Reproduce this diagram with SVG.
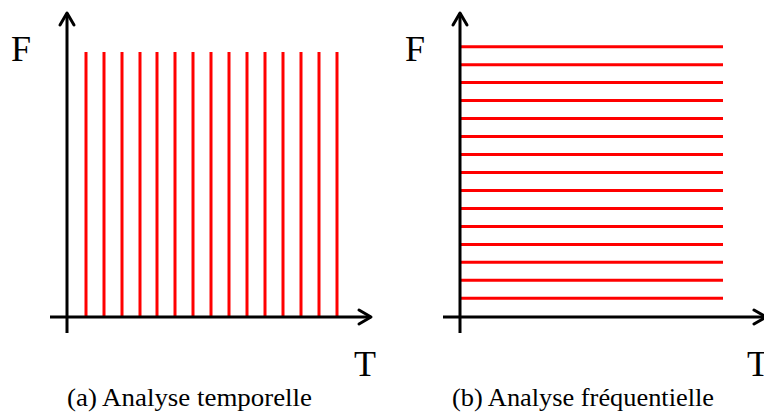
<svg xmlns="http://www.w3.org/2000/svg" width="764" height="413" viewBox="0 0 764 413">
<style>
.ax{stroke:#000;stroke-width:3;fill:none}
.ah{stroke:#000;stroke-width:3;fill:none;stroke-linecap:round;stroke-linejoin:round}
.r{stroke:#ff0000;stroke-width:3}
.lbl{font-family:"Liberation Serif","DejaVu Serif",serif;font-size:36px;fill:#000}
.cap{font-family:"Liberation Serif","DejaVu Serif",serif;font-size:25px;fill:#000}
</style>
<g id="panel-a">
  <g id="a-lines">
    <line class="r" x1="86" y1="52" x2="86" y2="316"/>
    <line class="r" x1="104" y1="52" x2="104" y2="316"/>
    <line class="r" x1="122" y1="52" x2="122" y2="316"/>
    <line class="r" x1="140" y1="52" x2="140" y2="316"/>
    <line class="r" x1="157" y1="52" x2="157" y2="316"/>
    <line class="r" x1="175" y1="52" x2="175" y2="316"/>
    <line class="r" x1="193" y1="52" x2="193" y2="316"/>
    <line class="r" x1="211" y1="52" x2="211" y2="316"/>
    <line class="r" x1="229" y1="52" x2="229" y2="316"/>
    <line class="r" x1="247" y1="52" x2="247" y2="316"/>
    <line class="r" x1="265" y1="52" x2="265" y2="316"/>
    <line class="r" x1="283" y1="52" x2="283" y2="316"/>
    <line class="r" x1="301" y1="52" x2="301" y2="316"/>
    <line class="r" x1="319" y1="52" x2="319" y2="316"/>
    <line class="r" x1="337" y1="52" x2="337" y2="316"/>
  </g>
  <g id="a-axes">
    <line class="ax" x1="67" y1="333" x2="67" y2="13"/>
    <polyline class="ah" points="60,25 67,13 74,25"/>
    <line class="ax" x1="50" y1="317" x2="371" y2="317"/>
    <polyline class="ah" points="359,310 371,317 359,324"/>
  </g>
  <text class="lbl" x="11" y="61">F</text>
  <text class="lbl" x="354" y="376">T</text>
  <text class="cap" x="67" y="406" textLength="245" lengthAdjust="spacingAndGlyphs">(a) Analyse temporelle</text>
</g>
<g id="panel-b">
  <g id="b-lines">
    <line class="r" x1="460" y1="46.7" x2="723" y2="46.7"/>
    <line class="r" x1="460" y1="64.7" x2="723" y2="64.7"/>
    <line class="r" x1="460" y1="82.6" x2="723" y2="82.6"/>
    <line class="r" x1="460" y1="100.6" x2="723" y2="100.6"/>
    <line class="r" x1="460" y1="118.5" x2="723" y2="118.5"/>
    <line class="r" x1="460" y1="136.5" x2="723" y2="136.5"/>
    <line class="r" x1="460" y1="154.5" x2="723" y2="154.5"/>
    <line class="r" x1="460" y1="172.5" x2="723" y2="172.5"/>
    <line class="r" x1="460" y1="190.4" x2="723" y2="190.4"/>
    <line class="r" x1="460" y1="208.4" x2="723" y2="208.4"/>
    <line class="r" x1="460" y1="226.4" x2="723" y2="226.4"/>
    <line class="r" x1="460" y1="244.4" x2="723" y2="244.4"/>
    <line class="r" x1="460" y1="262.3" x2="723" y2="262.3"/>
    <line class="r" x1="460" y1="280.3" x2="723" y2="280.3"/>
    <line class="r" x1="460" y1="298.3" x2="723" y2="298.3"/>
  </g>
  <g id="b-axes">
    <line class="ax" x1="460" y1="333" x2="460" y2="13"/>
    <polyline class="ah" points="453,25 460,13 467,25"/>
    <line class="ax" x1="443" y1="317" x2="764" y2="317"/>
    <polyline class="ah" points="754,310 766,317 754,324"/>
  </g>
  <text class="lbl" x="405" y="61">F</text>
  <text class="lbl" x="747" y="376">T</text>
  <text class="cap" x="452" y="406" textLength="262" lengthAdjust="spacingAndGlyphs">(b) Analyse fréquentielle</text>
</g>
</svg>
